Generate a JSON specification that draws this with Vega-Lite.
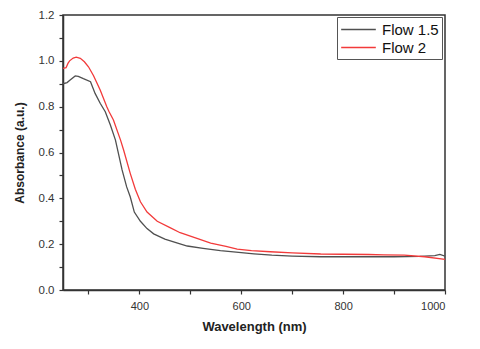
{
  "$schema": "https://vega.github.io/schema/vega-lite/v6.json",
  "autosize": "none",
  "width": 382,
  "height": 275,
  "padding": {"left": 63, "top": 15, "right": 35, "bottom": 59},
  "background": "white",
  "config": {
    "view": {"stroke": "#333", "strokeWidth": 1.5},
    "font": "Liberation Sans"
  },
  "data": {"values": [
    {"wl": 250, "A": 0.900, "s": "Flow 1.5"},
    {"wl": 258, "A": 0.905, "s": "Flow 1.5"},
    {"wl": 264, "A": 0.916, "s": "Flow 1.5"},
    {"wl": 274, "A": 0.934, "s": "Flow 1.5"},
    {"wl": 280, "A": 0.932, "s": "Flow 1.5"},
    {"wl": 290, "A": 0.922, "s": "Flow 1.5"},
    {"wl": 304, "A": 0.909, "s": "Flow 1.5"},
    {"wl": 313, "A": 0.858, "s": "Flow 1.5"},
    {"wl": 323, "A": 0.815, "s": "Flow 1.5"},
    {"wl": 333, "A": 0.778, "s": "Flow 1.5"},
    {"wl": 343, "A": 0.72, "s": "Flow 1.5"},
    {"wl": 353, "A": 0.654, "s": "Flow 1.5"},
    {"wl": 366, "A": 0.524, "s": "Flow 1.5"},
    {"wl": 375, "A": 0.45, "s": "Flow 1.5"},
    {"wl": 382, "A": 0.407, "s": "Flow 1.5"},
    {"wl": 390, "A": 0.34, "s": "Flow 1.5"},
    {"wl": 402, "A": 0.30, "s": "Flow 1.5"},
    {"wl": 415, "A": 0.268, "s": "Flow 1.5"},
    {"wl": 428, "A": 0.245, "s": "Flow 1.5"},
    {"wl": 450, "A": 0.222, "s": "Flow 1.5"},
    {"wl": 475, "A": 0.205, "s": "Flow 1.5"},
    {"wl": 494, "A": 0.192, "s": "Flow 1.5"},
    {"wl": 525, "A": 0.182, "s": "Flow 1.5"},
    {"wl": 559, "A": 0.172, "s": "Flow 1.5"},
    {"wl": 600, "A": 0.163, "s": "Flow 1.5"},
    {"wl": 625, "A": 0.158, "s": "Flow 1.5"},
    {"wl": 660, "A": 0.152, "s": "Flow 1.5"},
    {"wl": 700, "A": 0.148, "s": "Flow 1.5"},
    {"wl": 756, "A": 0.145, "s": "Flow 1.5"},
    {"wl": 800, "A": 0.145, "s": "Flow 1.5"},
    {"wl": 850, "A": 0.145, "s": "Flow 1.5"},
    {"wl": 900, "A": 0.145, "s": "Flow 1.5"},
    {"wl": 950, "A": 0.147, "s": "Flow 1.5"},
    {"wl": 980, "A": 0.150, "s": "Flow 1.5"},
    {"wl": 990, "A": 0.155, "s": "Flow 1.5"},
    {"wl": 1000, "A": 0.148, "s": "Flow 1.5"},
    {"wl": 250, "A": 0.967, "s": "Flow 2"},
    {"wl": 256, "A": 0.970, "s": "Flow 2"},
    {"wl": 260, "A": 0.990, "s": "Flow 2"},
    {"wl": 263, "A": 1.000, "s": "Flow 2"},
    {"wl": 270, "A": 1.012, "s": "Flow 2"},
    {"wl": 276, "A": 1.016, "s": "Flow 2"},
    {"wl": 284, "A": 1.011, "s": "Flow 2"},
    {"wl": 292, "A": 0.996, "s": "Flow 2"},
    {"wl": 300, "A": 0.974, "s": "Flow 2"},
    {"wl": 310, "A": 0.935, "s": "Flow 2"},
    {"wl": 323, "A": 0.873, "s": "Flow 2"},
    {"wl": 336, "A": 0.800, "s": "Flow 2"},
    {"wl": 340, "A": 0.780, "s": "Flow 2"},
    {"wl": 349, "A": 0.742, "s": "Flow 2"},
    {"wl": 363, "A": 0.654, "s": "Flow 2"},
    {"wl": 369, "A": 0.611, "s": "Flow 2"},
    {"wl": 382, "A": 0.509, "s": "Flow 2"},
    {"wl": 392, "A": 0.44, "s": "Flow 2"},
    {"wl": 402, "A": 0.385, "s": "Flow 2"},
    {"wl": 415, "A": 0.34, "s": "Flow 2"},
    {"wl": 435, "A": 0.30, "s": "Flow 2"},
    {"wl": 460, "A": 0.272, "s": "Flow 2"},
    {"wl": 480, "A": 0.250, "s": "Flow 2"},
    {"wl": 513, "A": 0.225, "s": "Flow 2"},
    {"wl": 540, "A": 0.205, "s": "Flow 2"},
    {"wl": 570, "A": 0.190, "s": "Flow 2"},
    {"wl": 592, "A": 0.178, "s": "Flow 2"},
    {"wl": 620, "A": 0.172, "s": "Flow 2"},
    {"wl": 657, "A": 0.167, "s": "Flow 2"},
    {"wl": 700, "A": 0.162, "s": "Flow 2"},
    {"wl": 756, "A": 0.157, "s": "Flow 2"},
    {"wl": 800, "A": 0.156, "s": "Flow 2"},
    {"wl": 850, "A": 0.155, "s": "Flow 2"},
    {"wl": 880, "A": 0.153, "s": "Flow 2"},
    {"wl": 920, "A": 0.152, "s": "Flow 2"},
    {"wl": 960, "A": 0.145, "s": "Flow 2"},
    {"wl": 1000, "A": 0.134, "s": "Flow 2"}
  ]},
  "mark": {"type": "line", "strokeWidth": 1.3, "clip": true},
  "encoding": {
    "x": {
      "field": "wl", "type": "quantitative",
      "scale": {"domain": [250, 1000], "nice": false, "zero": false},
      "axis": {
        "title": "Wavelength (nm)",
        "titleFontSize": 13, "titleFontWeight": "bold", "titleColor": "#222", "titlePadding": 9,
        "values": [300, 400, 500, 600, 700, 800, 900, 1000],
        "labelExpr": "datum.value % 200 == 0 ? format(datum.value, 'd') : ''",
        "labelFontSize": 11, "labelColor": "#333", "labelPadding": 6,
        "tickSize": 4, "tickColor": "#333", "tickWidth": 1.2,
        "domainColor": "#333", "domainWidth": 1.5, "grid": false
      }
    },
    "y": {
      "field": "A", "type": "quantitative",
      "scale": {"domain": [0, 1.2], "nice": false},
      "axis": {
        "title": "Absorbance (a.u.)",
        "titleFontSize": 12, "titleFontWeight": "bold", "titleColor": "#222", "titlePadding": 12,
        "values": [0, 0.1, 0.2, 0.3, 0.4, 0.5, 0.6, 0.7, 0.8, 0.9, 1.0, 1.1, 1.2],
        "labelExpr": "round(datum.value * 10) % 2 == 0 ? format(datum.value, '.1f') : ''",
        "labelFontSize": 11.5, "labelColor": "#333", "labelPadding": 5,
        "tickSize": 4, "tickColor": "#333", "tickWidth": 1.2,
        "domainColor": "#333", "domainWidth": 1.5, "grid": false
      }
    },
    "color": {
      "field": "s", "type": "nominal",
      "scale": {"domain": ["Flow 1.5", "Flow 2"], "range": ["#505050", "#f23a3a"]},
      "legend": {
        "title": null, "orient": "none", "legendX": 274, "legendY": 2,
        "symbolType": "M-2,0H2", "symbolSize": 300, "symbolStrokeWidth": 1.5,
        "symbolOffset": 9, "labelOffset": 14,
        "labelFontSize": 15, "labelColor": "#111",
        "strokeColor": "#555", "padding": 3, "rowPadding": 0
      }
    }
  }
}
